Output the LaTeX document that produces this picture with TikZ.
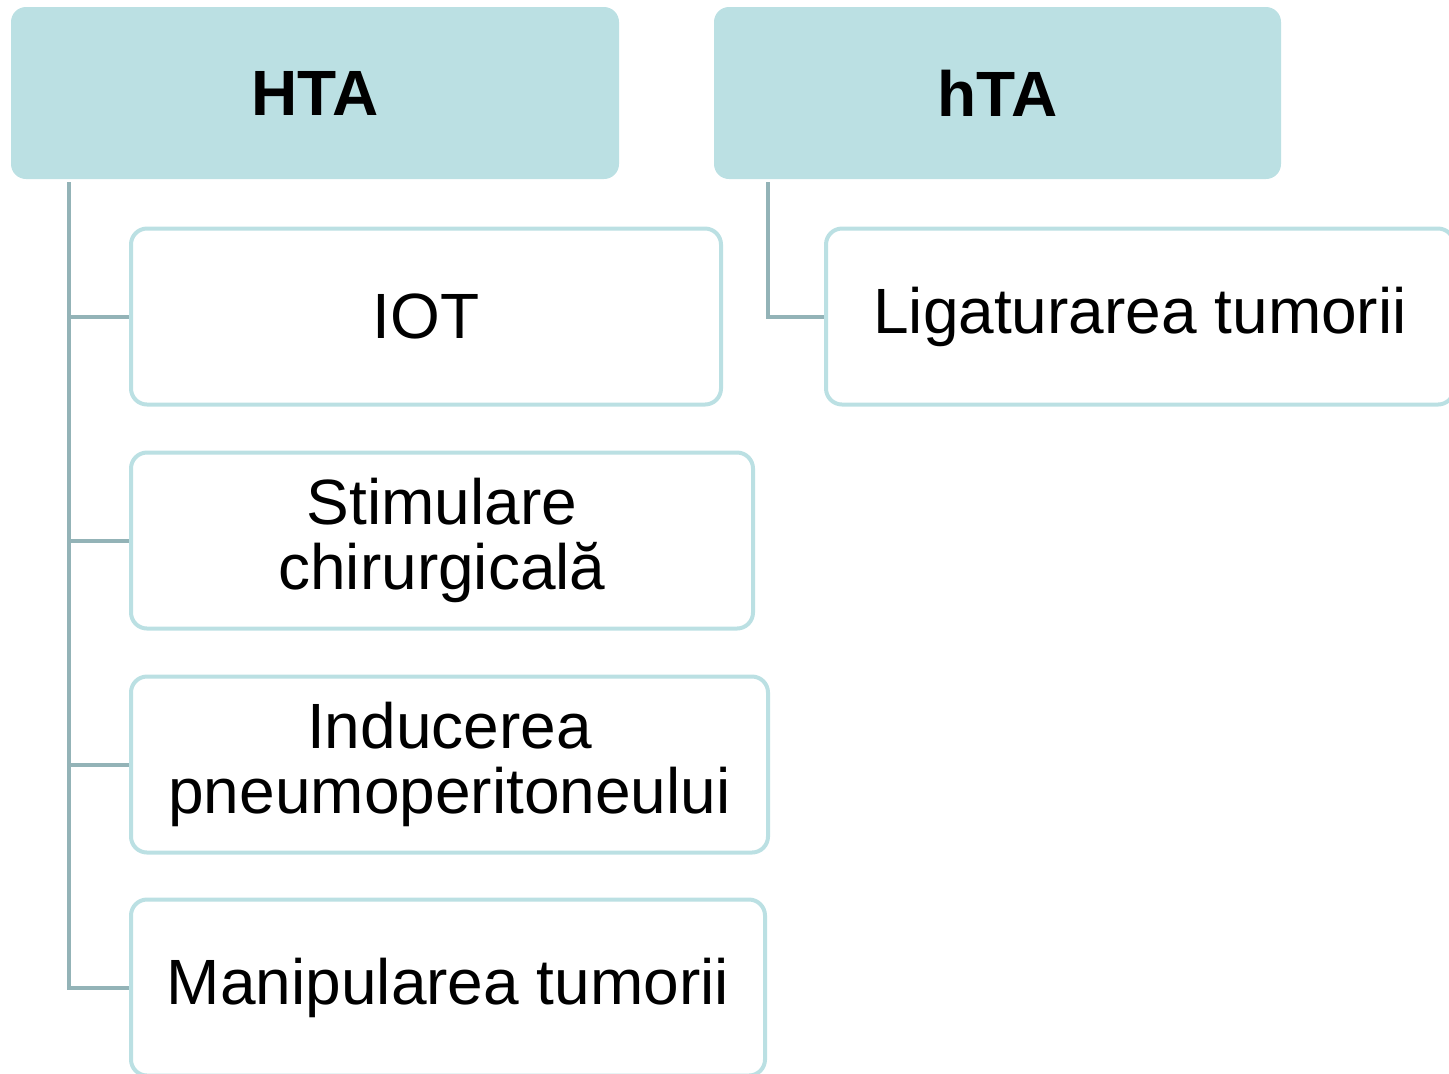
\documentclass[tikz,border=0pt]{standalone}
\usepackage{fontspec}
\setmainfont{Liberation Sans}
\definecolor{headfill}{HTML}{BBE0E3}
\definecolor{childline}{HTML}{BBE0E3}
\definecolor{connline}{HTML}{93B3B7}
\begin{document}
\begin{tikzpicture}[x=0.5pt,y=-0.5pt,
  txt/.style={font=\fontsize{32}{32.5}\selectfont, align=center, text=black},
  head/.style={txt, font=\fontsize{32}{32.5}\selectfont\bfseries, fill=headfill, draw=none, rounded corners=7.5pt, inner sep=0pt, outer sep=0pt},
  child/.style={txt, draw=childline, line width=2pt, fill=white, rounded corners=8pt, inner sep=0pt, outer sep=1pt},
  conn/.style={draw=connline, line width=2pt}]
\useasboundingbox (0,0) rectangle (1449,1073);
\clip (0,0) rectangle (1449,1073);
% headers
\node[head, minimum width=304pt, minimum height=86pt] (hta) at (315,93) {HTA};
\node[head, minimum width=283.5pt, minimum height=86pt] (hta2) at (997.5,93) {hTA};
% children
\node[child, minimum width=295pt, minimum height=88pt] (iot) at (426,316.5) {IOT};
\node[child, minimum width=311pt, minimum height=88pt] (stim) at (442,540.5) {Stimulare\\chirurgicală};
\node[child, minimum width=318.5pt, minimum height=88pt] (ind) at (449.5,764.5) {Inducerea\\pneumoperitoneului};
\node[child, minimum width=317pt, minimum height=88pt] (man) at (448,987.5) {Manipularea tumorii};
\node[child, minimum width=314pt, minimum height=88pt] (lig) at (1140,316.5) {Ligaturarea tumorii};
% connectors
\coordinate (hs) at ([xshift=29pt,yshift=-1.5pt]hta.south west);
\coordinate (hs2) at ([xshift=27pt,yshift=-1.5pt]hta2.south west);
\draw[conn] (hs) |- (iot.west);
\draw[conn] (hs) |- (stim.west);
\draw[conn] (hs) |- (ind.west);
\draw[conn] (hs) |- (man.west);
\draw[conn] (hs2) |- (lig.west);
\end{tikzpicture}
\end{document}
